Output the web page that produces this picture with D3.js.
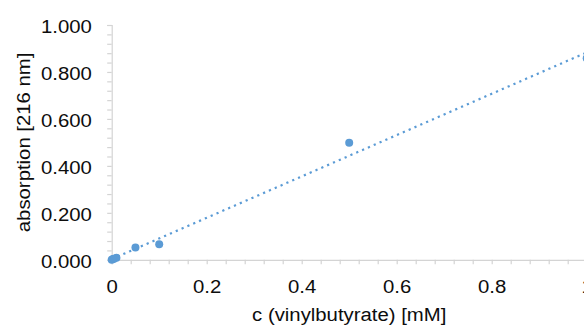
<!DOCTYPE html>
<html>
<head>
<meta charset="utf-8">
<script src="https://cdn.jsdelivr.net/npm/d3@7"></script>
<style>
  html, body { margin: 0; padding: 0; background: #fff; }
  svg { display: block; }
  text { font-family: "Liberation Sans", Arial, sans-serif; fill: #0d0d0d; }
</style>
</head>
<body>
<svg id="chart" width="584" height="325"></svg>
<script>
// Calibration measurements: vinylbutyrate concentration (mM) vs absorption at 216 nm
const concentration = [0, 0.0025, 0.005, 0.01, 0.05, 0.1, 0.5, 1.0];
const absorption    = [0, 0.003, 0.005, 0.009, 0.052, 0.066, 0.498, 0.858];

const xTickValues = [0, 0.2, 0.4, 0.6, 0.8, 1];
const yTickValues = [0, 0.2, 0.4, 0.6, 0.8, 1.0];
const xTitle = "c (vinylbutyrate) [mM]";
const yTitle = "absorption [216 nm]";

const FONT = 18, STRETCH = 1.13;
const BLUE = "#5b9bd5", AXIS = "#d4d4d4";

const svg = d3.select("#chart");
const x = d3.scaleLinear().domain([0, 1]).range([111.7, 586.7]);
const y = d3.scaleLinear().domain([0, 1]).range([259.8, 25]);

const minor = d3.range(0, 1.0001, 0.04);

// widen glyphs around their anchor point
function stretch(sel) {
  sel.each(function () {
    const t = d3.select(this);
    const ax = +t.attr("x") || 0, ay = +t.attr("y") || 0;
    t.attr("transform", `translate(${ax},${ay}) scale(${STRETCH},1) translate(${-ax},${-ay})`);
  });
}

// Y axis: minor ticks + labels
svg.append("g").attr("transform", `translate(${x(0)},0)`)
  .call(d3.axisLeft(y).tickValues(minor).tickSize(4.5).tickFormat(""));
const yLab = svg.append("g").attr("transform", `translate(${x(0)},0)`)
  .call(d3.axisLeft(y).tickValues(yTickValues).tickSize(0).tickPadding(19.8).tickFormat(d3.format(".3f")));
yLab.select(".domain").remove();
yLab.selectAll("text").attr("dy", "0.4em");

// X axis: minor ticks + labels
svg.append("g").attr("transform", `translate(0,${y(0)})`)
  .call(d3.axisBottom(x).tickValues(minor).tickSize(4.5).tickFormat(""));
const xLab = svg.append("g").attr("transform", `translate(0,${y(0)})`)
  .call(d3.axisBottom(x).tickValues(xTickValues).tickSize(0).tickPadding(20.3).tickFormat(d3.format("")));
xLab.select(".domain").remove();

svg.selectAll(".domain, .tick line").attr("stroke", AXIS).attr("stroke-width", 1.2);
[yLab, xLab].forEach(g => g.selectAll("text")
  .style("font-family", '"Liberation Sans", Arial, sans-serif')
  .attr("font-size", FONT).attr("fill", "#0d0d0d").call(stretch));

// Least-squares linear trendline
const n = concentration.length;
const mx = d3.mean(concentration), my = d3.mean(absorption);
let sxy = 0, sxx = 0;
for (let i = 0; i < n; i++) {
  sxy += (concentration[i] - mx) * (absorption[i] - my);
  sxx += (concentration[i] - mx) ** 2;
}
const slope = sxy / sxx, intercept = my - slope * mx;
const trend = [0, 1].map(c => [c, intercept + slope * c]);

svg.append("path")
  .datum(trend)
  .attr("d", d3.line().x(d => x(d[0])).y(d => y(d[1])))
  .attr("fill", "none")
  .attr("stroke", BLUE)
  .attr("stroke-width", 2.2)
  .attr("stroke-dasharray", "2.2 4.15");

// Data markers
svg.append("g").selectAll("circle")
  .data(concentration.map((c, i) => [c, absorption[i]]))
  .join("circle")
  .attr("cx", d => x(d[0]))
  .attr("cy", d => y(d[1]))
  .attr("r", 4)
  .attr("fill", BLUE);

// Axis titles
svg.append("text")
  .attr("x", (x(0) + x(1)) / 2).attr("y", 321)
  .attr("text-anchor", "middle").attr("font-size", FONT)
  .text(xTitle)
  .call(stretch);

svg.append("text")
  .attr("transform", `translate(30,${(y(0) + y(1)) / 2}) rotate(-90) scale(${STRETCH},1)`)
  .attr("text-anchor", "middle").attr("font-size", FONT)
  .text(yTitle);
</script>
</body>
</html>
